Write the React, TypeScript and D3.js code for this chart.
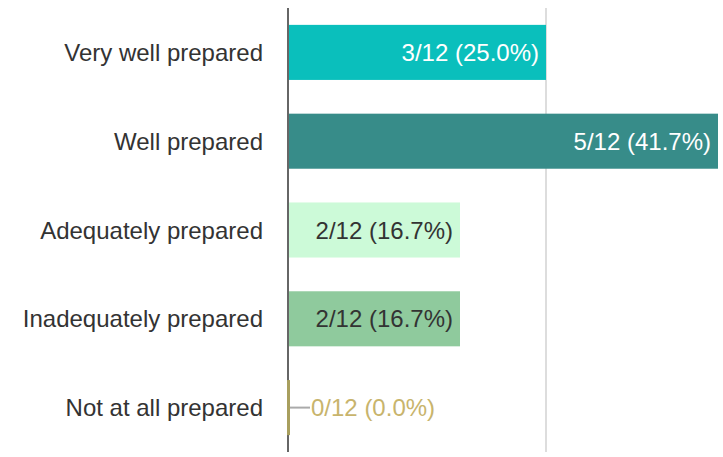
import React from "react";
import * as d3 from "d3";

const categories = [
  "Very well prepared",
  "Well prepared",
  "Adequately prepared",
  "Inadequately prepared",
  "Not at all prepared",
];
const counts = [3, 5, 2, 2, 0];
const total = 12;
const colors = ["#0ABFBC", "#378C89", "#CCFAD8", "#8FCA9D", "#A89F5E"];
const labelColors = ["#FFFFFF", "#FFFFFF", "#333333", "#333333", "#C8B46C"];
const gridTicks = [3];

export default function App() {
  const W = 723;
  const H = 457;
  const x = d3.scaleLinear().domain([0, 6]).range([288, 804]);
  const y = d3
    .scaleBand<string>()
    .domain(categories)
    .range([8, 452])
    .paddingInner(0.38)
    .paddingOuter(0.19);
  const font = "'Liberation Sans', Arial, sans-serif";
  return (
    <svg
      width={W}
      height={H}
      style={{ position: "absolute", left: 0, top: 0, background: "#fff" }}
      fontFamily={font}
    >
      {gridTicks.map((t) => (
        <line key={t} x1={x(t)} x2={x(t)} y1={8} y2={452} stroke="#dddddd" strokeWidth={2} />
      ))}
      {categories.map((c, i) => {
        const y0 = y(c)!;
        const bw = y.bandwidth();
        const cy = y0 + bw / 2;
        const v = counts[i];
        const pct = ((v / total) * 100).toFixed(1);
        const label = `${v}/${total} (${pct}%)`;
        const xe = x(v);
        return (
          <g key={c}>
            <text
              x={263}
              y={cy}
              textAnchor="end"
              dominantBaseline="central"
              fontSize={24}
              fill="#333333"
            >
              {c}
            </text>
            {v > 0 ? (
              <>
                <rect x={x(0)} y={y0} width={xe - x(0)} height={bw} fill={colors[i]} />
                <text
                  x={xe - 7}
                  y={cy}
                  textAnchor="end"
                  dominantBaseline="central"
                  fontSize={24}
                  fill={labelColors[i]}
                >
                  {label}
                </text>
              </>
            ) : (
              <>
                <rect x={x(0)} y={y0} width={2} height={bw} fill={colors[i]} />
                <line x1={x(0) + 2} x2={x(0) + 22} y1={cy} y2={cy} stroke="#aaaaaa" strokeWidth={2} />
                <text
                  x={x(0) + 23}
                  y={cy}
                  textAnchor="start"
                  dominantBaseline="central"
                  fontSize={24}
                  fill={labelColors[i]}
                >
                  {label}
                </text>
              </>
            )}
          </g>
        );
      })}
      <line x1={x(0)} x2={x(0)} y1={8} y2={452} stroke="#666666" strokeWidth={2} />
      {counts.map((v, i) =>
        v === 0 ? (
          <rect key={i} x={x(0) - 1} y={y(categories[i])!} width={2} height={y.bandwidth()} fill={colors[i]} />
        ) : null
      )}
    </svg>
  );
}
